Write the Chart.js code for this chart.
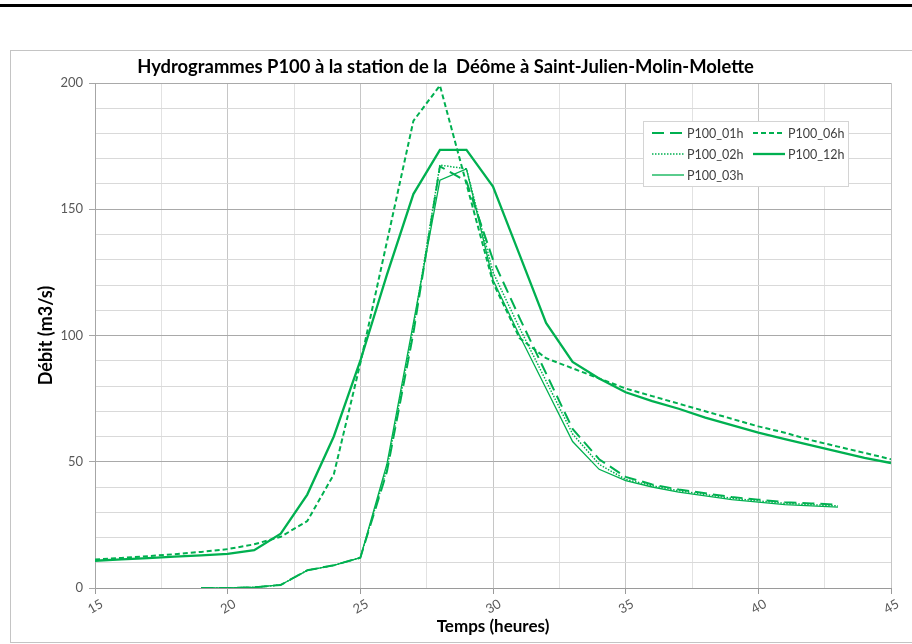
<!DOCTYPE html>
<html lang="fr">
  <head>
    <meta charset="UTF-8" />
    <title>Hydrogrammes P100</title>
    <script src="https://cdn.jsdelivr.net/npm/chart.js@4.4.1/dist/chart.umd.min.js"></script>
    <style>
      body { margin: 0; background: #fff; overflow: hidden; }
      #topbar { position: absolute; left: 0; top: 4px; width: 912px; height: 3px; background: #000; }
      #frame { position: absolute; left: 10px; top: 50px; width: 910px; height: 591px; border: 1px solid #c4c4c4; }
    </style>
  </head>
  <body>
    <div id="topbar"></div>
    <div id="frame"><canvas id="chart" width="909" height="591"></canvas></div>

    <script>
      // heures
      const hoursLong = [15, 16, 17, 18, 19, 20, 21, 22, 23, 24, 25, 26, 27, 28, 29, 30,
        31, 32, 33, 34, 35, 36, 37, 38, 39, 40, 41, 42, 43, 44, 45];
      const hoursShort = [19, 20, 21, 22, 23, 24, 25, 26, 27, 28, 29, 30, 31,
        32, 33, 34, 35, 36, 37, 38, 39, 40, 41, 42, 43];

      // debits (m3/s)
      const p100_01h = [0, 0, 0.3, 1.2, 7, 9, 12, 46, 101, 167, 161, 130, 107,
        85, 63, 51, 44, 41, 39, 37.5, 36, 35, 34, 33.5, 33];
      const p100_02h = [0, 0, 0.3, 1.2, 7, 9, 12, 47, 103, 167.5, 166, 125, 103,
        82, 61, 49, 43, 40.5, 38.5, 37, 35.5, 34.5, 33.5, 33, 32.5];
      const p100_03h = [0, 0, 0.3, 1.2, 7, 9, 12, 49, 105, 161.5, 166, 122, 100,
        79, 58, 47, 42.5, 40, 38, 36.5, 35, 34, 33, 32.5, 32];
      const p100_06h = [11.3, 11.9, 12.6, 13.4, 14.3, 15.4, 17.3, 20.3, 26.5, 45, 89, 137, 185, 199, 160, 121,
        99, 91, 87, 83, 79, 76, 73, 70, 67, 64, 61.5, 58.5, 56, 53.5, 51];
      const p100_12h = [10.8, 11.3, 11.8, 12.4, 12.9, 13.5, 15, 21.5, 37, 60, 90, 124, 156, 173.5, 173.5, 159,
        132, 105, 89.5, 83, 77.5, 74, 71, 67.5, 64.5, 61.5, 59, 56.5, 54, 51.5, 49.5];

      const xLabels = [15, 20, 25, 30, 35, 40, 45];
      const yLabels = [0, 50, 100, 150, 200];

      const chartTitle = "Hydrogrammes P100 à la station de la  Déôme à Saint-Julien-Molin-Molette";

      const green = "#00B050";
      const FONT = "Lato";

      function pts(xs, ys) {
        return xs.map((x, i) => ({ x: x, y: ys[i] }));
      }

      const datasets = [
        { label: "P100_01h", data: pts(hoursShort, p100_01h), borderDash: [12, 6], borderWidth: 2 },
        { label: "P100_02h", data: pts(hoursShort, p100_02h), borderDash: [1.5, 1.5], borderWidth: 1.5 },
        { label: "P100_03h", data: pts(hoursShort, p100_03h), borderDash: [], borderWidth: 1.3 },
        { label: "P100_06h", data: pts(hoursLong, p100_06h), borderDash: [5, 3], borderWidth: 2 },
        { label: "P100_12h", data: pts(hoursLong, p100_12h), borderDash: [], borderWidth: 2.3 },
      ].map((d) => Object.assign(d, {
        borderColor: green,
        backgroundColor: green,
        fill: false,
        tension: 0,
        pointRadius: 0,
        pointHoverRadius: 0,
      }));

      // titre + legende en boite, facon Excel (2 colonnes)
      const legendRows = [["P100_01h", "P100_06h"], ["P100_02h", "P100_12h"], ["P100_03h"]];
      const boxLegend = {
        id: "boxLegend",
        afterDatasetsDraw(chart) {
          const ctx = chart.ctx;
          ctx.save();
          ctx.font = "bold 18.4px " + FONT;
          ctx.fillStyle = "#000";
          ctx.textAlign = "center";
          ctx.textBaseline = "middle";
          ctx.fillText(chartTitle, 434.5, 16);

          const bx = 632.5, by = 70.5, bw = 205, bh = 65;
          ctx.fillStyle = "#fff";
          ctx.strokeStyle = "#d4d4d4";
          ctx.lineWidth = 1;
          ctx.fillRect(bx, by, bw, bh);
          ctx.strokeRect(bx, by, bw, bh);
          ctx.font = "12.5px " + FONT;
          ctx.textAlign = "left";
          ctx.fillStyle = "#404040";
          legendRows.forEach((row, r) => {
            const cy = 82 + r * 21;
            row.forEach((lab, c) => {
              const ds = chart.data.datasets.find((d) => d.label === lab);
              const x0 = 641 + c * 101;
              ctx.beginPath();
              ctx.strokeStyle = ds.borderColor;
              ctx.lineWidth = ds.borderWidth;
              ctx.setLineDash(ds.borderDash);
              ctx.moveTo(x0, cy);
              ctx.lineTo(x0 + 32, cy);
              ctx.stroke();
              ctx.setLineDash([]);
              ctx.fillText(lab, x0 + 35, cy + 1);
            });
          });
          ctx.restore();
        },
      };

      Chart.defaults.font.family = FONT;
      Chart.defaults.color = "#595959";

      const ctx = document.getElementById("chart").getContext("2d");
      const myChart = new Chart(ctx, {
        type: "line",
        data: { datasets: datasets },
        plugins: [boxLegend],
        options: {
          responsive: false,
          animation: false,
          layout: { padding: { left: 0, right: 29, top: 32, bottom: 0 } },
          plugins: {
            legend: { display: false },
            tooltip: { enabled: false },
            title: { display: false },
          },
          scales: {
            x: {
              type: "linear",
              min: 15,
              max: 45,
              afterFit: (s) => { s.height = 54; },
              border: { color: "#9a9a9a" },
              grid: {
                color: (c) => (xLabels.includes(c.tick.value) ? "#c6c6c6" : "#e2e2e2"),
                tickColor: (c) => (xLabels.includes(c.tick.value) ? "#9a9a9a" : "transparent"),
                tickLength: 6,
              },
              ticks: {
                stepSize: 2.5,
                autoSkip: false,
                minRotation: 30,
                maxRotation: 30,
                labelOffset: 7,
                padding: 2,
                font: { size: 13 },
                callback: (v) => (xLabels.includes(v) ? String(v) : ""),
              },
              title: {
                display: true,
                text: "Temps (heures)",
                color: "#000",
                font: { size: 17, weight: "bold", lineHeight: 1.2 },
                padding: { top: 0, bottom: 5 },
              },
            },
            y: {
              min: 0,
              max: 200,
              afterFit: (s) => { s.width = 84; },
              border: { color: "#a6a6a6" },
              grid: {
                color: (c) => (yLabels.includes(c.tick.value) ? "#a9a9a9" : "#d9d9d9"),
                tickColor: (c) => (yLabels.includes(c.tick.value) ? "#a6a6a6" : "transparent"),
                tickLength: 6,
              },
              ticks: {
                stepSize: 10,
                autoSkip: false,
                padding: 6,
                font: { size: 13 },
                callback: (v) => (yLabels.includes(v) ? String(v) : ""),
              },
              title: {
                display: true,
                text: "Débit (m3/s)",
                color: "#000",
                font: { size: 18, weight: "bold", lineHeight: 1.2 },
                padding: { top: 24, bottom: 0 },
              },
            },
          },
        },
      });
    </script>
  </body>
</html>
